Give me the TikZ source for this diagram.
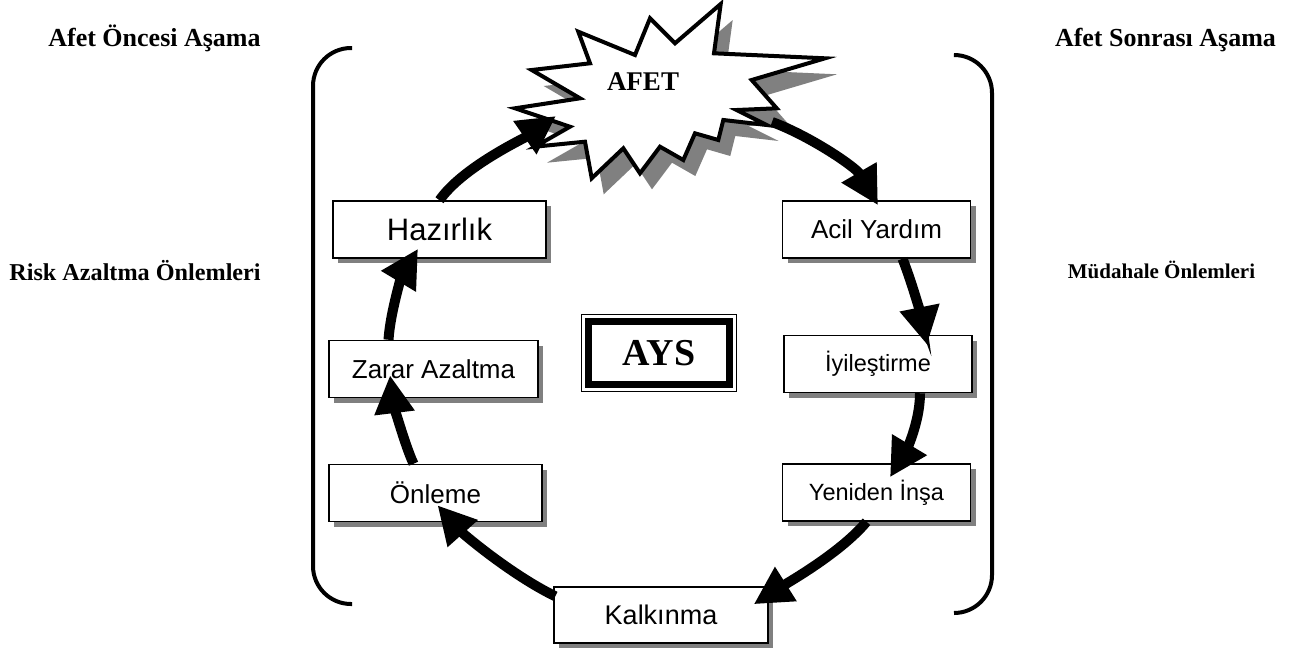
\documentclass[tikz,border=0pt]{standalone}
\usepackage{fontspec}
\setmainfont{Liberation Serif}
\newfontfamily\arialfont{Liberation Sans}
\usetikzlibrary{arrows.meta, shadows}
\tikzset{
    box/.style={draw, rectangle, line width=1.5pt, fill=white, minimum height=57pt, minimum width=213pt, align=center,
        font=\arialfont\fontsize{26}{30}\selectfont,
        drop shadow={shadow xshift=5pt, shadow yshift=-5pt, fill=black!50, opacity=1}},
    rbox/.style={box, minimum width=188pt},
    stage/.style={font=\fontsize{26}{30}\selectfont\bfseries, anchor=base},
    flow/.style={line width=10pt, -{Triangle[length=38pt, width=38pt]}},
    bracket/.style={line width=4pt, rounded corners=38pt}
}

\begin{document}
\begin{tikzpicture}[x=1pt, y=-1pt]
    \useasboundingbox (0,0) rectangle (1300,651);
    % brackets
    \draw[bracket] (352,48) -- (313,48) -- (313,604) -- (352,604);
    \draw[bracket] (955,55) -- (992,55) -- (992,613) -- (954,613);
    % disaster star
    \draw[line width=4pt, fill=white, drop shadow={shadow xshift=12pt, shadow yshift=-16pt, fill=black!50, opacity=1}]
        (720.7,4) -- (714,53.3) -- (825,58.3) -- (751.7,80) -- (776.7,108.3) -- (736.7,110) -- (766.7,125)
        -- (723.3,120) -- (718.3,140) -- (695,133.3) -- (683.3,160) -- (660,146.7) -- (640,173.3)
        -- (623.3,148.3) -- (591.7,178.3) -- (585,141.7) -- (535,146.7) -- (570,126.7) -- (515,108.3)
        -- (580,98.3) -- (531.7,70) -- (590,63.3) -- (578.3,31.7) -- (635,55) -- (650,18.3) -- (675,43.3) -- cycle;
    \node[font=\fontsize{27}{30}\selectfont\bfseries] (afet) at (643,82) {AFET};
    % phases
    \node[box, font=\arialfont\fontsize{31}{34}\selectfont] (hazirlik) at (439.5,229.5) {Hazırlık};
    \node[box, minimum width=209pt] (zarar) at (433.5,369) {Zarar Azaltma};
    \node[box] (onleme) at (435.5,493) {Önleme};
    \node[box, minimum width=214pt, minimum height=56pt, font=\arialfont\fontsize{27}{30}\selectfont] (kalkinma) at (661,615) {Kalkınma};
    \node[rbox] (acil) at (876.5,229.5) {Acil Yardım};
    \node[rbox, font=\arialfont\fontsize{23.5}{28}\selectfont] (iyilestirme) at (878,364) {İyileştirme};
    \node[rbox, font=\arialfont\fontsize{23.5}{28}\selectfont] (yeniden) at (876.5,492.5) {Yeniden İnşa};
    \node[draw, line width=1.5pt, minimum width=155pt, minimum height=77pt, font=\fontsize{38}{42}\selectfont\bfseries] (ays) at (659,353) {AYS};
    \draw[line width=7pt] ([shift={(8,8)}]ays.north west) rectangle ([shift={(-8,-8)}]ays.south east);
    % cycle
    \draw[flow] (hazirlik.north) .. controls +(23,-33) and +(-33,23) .. ([shift={(-87,34)}]afet.center);
    \draw[flow] ([shift={(129,40)}]afet.center) .. controls +(38,14) and +(-22,-38) .. ([shift={(1.5,5)}]acil.north);
    \draw[flow] ([shift={(26,0)}]acil.south) .. controls +(10,25) and +(-5,-25) .. ([shift={(49,10)}]iyilestirme.north);
    \draw[flow] ([shift={(42,0)}]iyilestirme.south) .. controls +(0,30) and +(15,-25) .. ([shift={(13.5,14)}]yeniden.north);
    \draw[flow] ([shift={(-10,0)}]yeniden.south) .. controls +(-25,30) and +(38,-24) .. ([shift={(-15,18)}]kalkinma.north east);
    \draw[flow] ([shift={(2,10)}]kalkinma.north west) .. controls +(-45,-22) and +(25,28) .. ([shift={(2,-17)}]onleme.south);
    \draw[flow] ([shift={(-22,0)}]onleme.north) .. controls +(-10,-22) and +(3,25) .. ([shift={(-43.5,-23)}]zarar.south);
    \draw[flow] ([shift={(-45,0)}]zarar.north) .. controls +(2,-30) and +(-15,25) .. ([shift={(-21.5,-10)}]hazirlik.south);
    % stage labels
    \node[stage] (oncesi) at (154.5,46) {Afet Öncesi Aşama};
    \node[stage] (sonrasi) at (1165.5,46) {Afet Sonrası Aşama};
    \node[stage, font=\fontsize{24.2}{28}\selectfont\bfseries] (risk) at (135,280) {Risk Azaltma Önlemleri};
    \node[stage, font=\fontsize{21}{25}\selectfont\bfseries] (mudahale) at (1161.5,278) {Müdahale Önlemleri};
\end{tikzpicture}
\end{document}
